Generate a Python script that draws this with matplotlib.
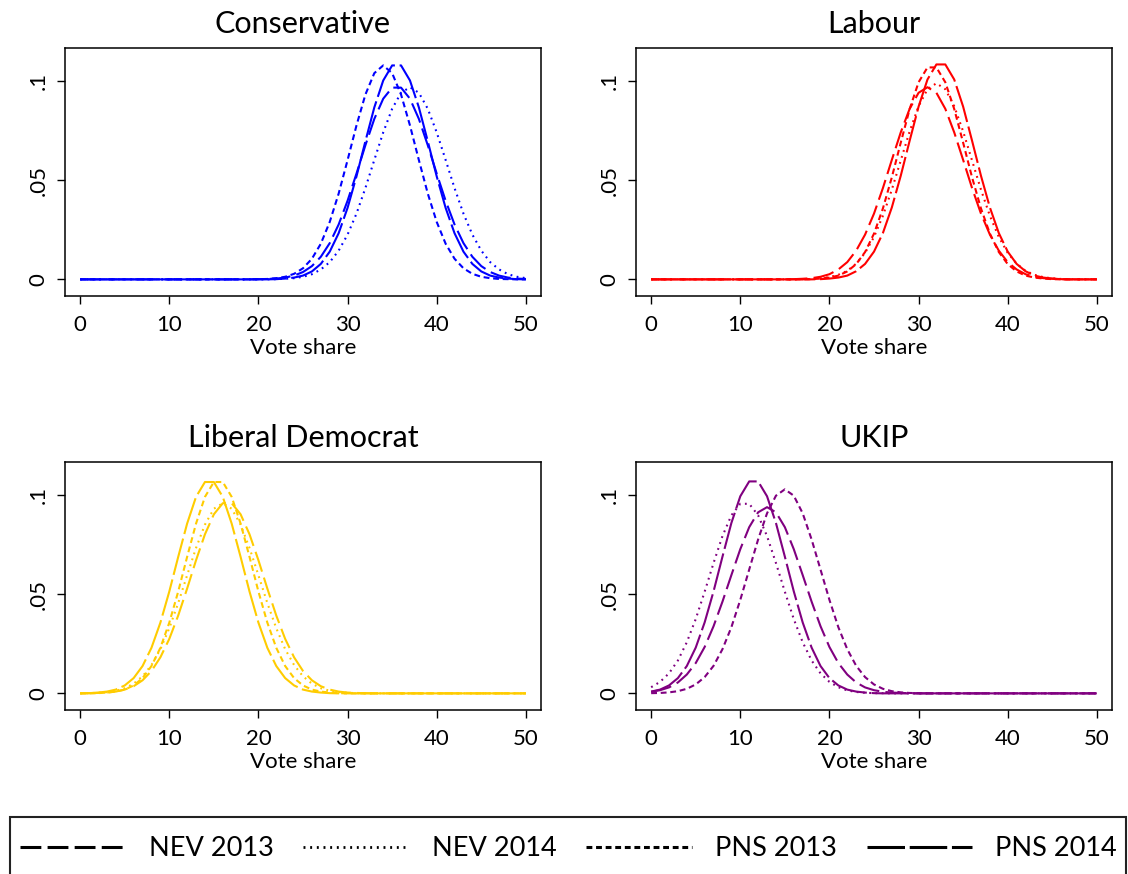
import matplotlib
matplotlib.use("Agg")
import matplotlib.pyplot as plt
from matplotlib.lines import Line2D
from matplotlib.patches import Rectangle

plt.rcParams['font.family'] = ['Lato', 'DejaVu Sans']
plt.rcParams['lines.scale_dashes'] = False

# DATA (densities at every whole vote share 0..50)

vote_share = list(range(0, 51))

parties = ["Conservative", "Labour", "Liberal Democrat", "UKIP"]
party_colors = ["#0000FF", "#FF0000", "#FFCC00", "#800080"]
surveys = ["NEV 2013", "NEV 2014", "PNS 2013", "PNS 2014"]

con_nev13 = [0] * 20 + [0.0001, 0.0002, 0.0004, 0.0009, 0.0019, 0.0037, 0.0067, 0.0114, 0.0183, 0.0277,
                        0.0397, 0.0534, 0.0677, 0.0810, 0.0912, 0.0968, 0.0968, 0.0912, 0.0810, 0.0677,
                        0.0534, 0.0397, 0.0277, 0.0183, 0.0114, 0.0067, 0.0037, 0.0019, 0.0009, 0.0004,
                        0.0002]
con_nev14 = [0] * 22 + [0.0001, 0.0003, 0.0006, 0.0013, 0.0026, 0.0050, 0.0087, 0.0145, 0.0226, 0.0332,
                        0.0461, 0.0603, 0.0742, 0.0861, 0.0942, 0.0970, 0.0942, 0.0861, 0.0742, 0.0603,
                        0.0461, 0.0332, 0.0226, 0.0145, 0.0087, 0.0050, 0.0026, 0.0013, 0.0006]
con_pns13 = [0] * 20 + [0.0001, 0.0002, 0.0006, 0.0013, 0.0028, 0.0056, 0.0104, 0.0180, 0.0290, 0.0433,
                        0.0602, 0.0777, 0.0933, 0.1041, 0.1080, 0.1041, 0.0933, 0.0777, 0.0602, 0.0433,
                        0.0290, 0.0180, 0.0104, 0.0056, 0.0028, 0.0013, 0.0006, 0.0002, 0.0001] + [0] * 2
con_pns14 = [0] * 22 + [0.0001, 0.0004, 0.0009, 0.0019, 0.0040, 0.0078, 0.0140, 0.0233, 0.0361, 0.0520,
                        0.0697, 0.0868, 0.1004, 0.1080, 0.1080, 0.1004, 0.0868, 0.0697, 0.0520, 0.0361,
                        0.0233, 0.0140, 0.0078, 0.0040, 0.0019, 0.0009, 0.0004, 0.0001] + [0]

lab_nev13 = [0] * 16 + [0.0001, 0.0003, 0.0006, 0.0013, 0.0026, 0.0050, 0.0087, 0.0145, 0.0226, 0.0332,
                        0.0461, 0.0603, 0.0742, 0.0861, 0.0942, 0.0970, 0.0942, 0.0861, 0.0742, 0.0603,
                        0.0461, 0.0332, 0.0226, 0.0145, 0.0087, 0.0050, 0.0026, 0.0013, 0.0006, 0.0003,
                        0.0001] + [0] * 4
lab_nev14 = [0] * 17 + [0.0001, 0.0002, 0.0005, 0.0011, 0.0023, 0.0043, 0.0079, 0.0134, 0.0214, 0.0321,
                        0.0453, 0.0600, 0.0747, 0.0874, 0.0960, 0.0990, 0.0960, 0.0874, 0.0747, 0.0600,
                        0.0453, 0.0321, 0.0214, 0.0134, 0.0079, 0.0043, 0.0023, 0.0011, 0.0005, 0.0002,
                        0.0001] + [0] * 3
lab_pns13 = [0] * 18 + [0.0001, 0.0004, 0.0009, 0.0019, 0.0040, 0.0077, 0.0138, 0.0231, 0.0358, 0.0515,
                        0.0690, 0.0860, 0.0995, 0.1070, 0.1070, 0.0995, 0.0860, 0.0690, 0.0515, 0.0358,
                        0.0231, 0.0138, 0.0077, 0.0040, 0.0019, 0.0009, 0.0004, 0.0001] + [0] * 5
lab_pns14 = [0] * 19 + [0.0001, 0.0004, 0.0009, 0.0019, 0.0041, 0.0078, 0.0140, 0.0234, 0.0363, 0.0523,
                        0.0700, 0.0872, 0.1009, 0.1085, 0.1085, 0.1009, 0.0872, 0.0700, 0.0523, 0.0363,
                        0.0234, 0.0140, 0.0078, 0.0041, 0.0019, 0.0009, 0.0004, 0.0001] + [0] * 4

lib_nev13 = [0.0000, 0.0001, 0.0002, 0.0004, 0.0009, 0.0019, 0.0036, 0.0066, 0.0113, 0.0182,
             0.0275, 0.0393, 0.0529, 0.0672, 0.0803, 0.0904, 0.0960, 0.0960, 0.0904, 0.0803,
             0.0672, 0.0529, 0.0393, 0.0275, 0.0182, 0.0113, 0.0066, 0.0036, 0.0019, 0.0009,
             0.0004, 0.0002, 0.0001] + [0] * 18
lib_nev14 = [0.0000, 0.0001, 0.0003, 0.0006, 0.0013, 0.0026, 0.0049, 0.0086, 0.0143, 0.0223,
             0.0329, 0.0456, 0.0596, 0.0734, 0.0852, 0.0932, 0.0960, 0.0932, 0.0852, 0.0734,
             0.0596, 0.0456, 0.0329, 0.0223, 0.0143, 0.0086, 0.0049, 0.0026, 0.0013, 0.0006,
             0.0003, 0.0001] + [0] * 19
lib_pns13 = [0.0000, 0.0000, 0.0001, 0.0004, 0.0009, 0.0019, 0.0040, 0.0077, 0.0138, 0.0230,
             0.0357, 0.0514, 0.0689, 0.0857, 0.0992, 0.1067, 0.1067, 0.0992, 0.0857, 0.0689,
             0.0514, 0.0357, 0.0230, 0.0138, 0.0077, 0.0040, 0.0019, 0.0009, 0.0004, 0.0001] + [0] * 21
lib_pns14 = [0.0000, 0.0001, 0.0004, 0.0009, 0.0019, 0.0040, 0.0077, 0.0138, 0.0230, 0.0357,
             0.0514, 0.0689, 0.0857, 0.0992, 0.1067, 0.1067, 0.0992, 0.0857, 0.0689, 0.0514,
             0.0357, 0.0230, 0.0138, 0.0077, 0.0040, 0.0019, 0.0009, 0.0004, 0.0001] + [0] * 22

ukip_nev13 = [0.0008, 0.0016, 0.0030, 0.0055, 0.0095, 0.0153, 0.0234, 0.0339, 0.0463, 0.0597,
              0.0728, 0.0839, 0.0914, 0.0940, 0.0914, 0.0839, 0.0728, 0.0597, 0.0463, 0.0339,
              0.0234, 0.0153, 0.0095, 0.0055, 0.0030, 0.0016, 0.0008, 0.0004, 0.0002, 0.0001] + [0] * 21
ukip_nev14 = [0.0031, 0.0058, 0.0101, 0.0166, 0.0258, 0.0375, 0.0513, 0.0658, 0.0794, 0.0899,
              0.0957, 0.0957, 0.0899, 0.0794, 0.0658, 0.0513, 0.0375, 0.0258, 0.0166, 0.0101,
              0.0058, 0.0031, 0.0015, 0.0007, 0.0003, 0.0001, 0.0001] + [0] * 24
ukip_pns13 = [0.0001, 0.0002, 0.0005, 0.0011, 0.0023, 0.0045, 0.0082, 0.0139, 0.0223, 0.0334,
              0.0472, 0.0625, 0.0777, 0.0909, 0.0998, 0.1030, 0.0998, 0.0909, 0.0777, 0.0625,
              0.0472, 0.0334, 0.0223, 0.0139, 0.0082, 0.0045, 0.0023, 0.0011, 0.0005, 0.0002,
              0.0001] + [0] * 20
ukip_pns14 = [0.0009, 0.0019, 0.0040, 0.0077, 0.0138, 0.0231, 0.0358, 0.0515, 0.0690, 0.0860,
              0.0995, 0.1070, 0.1070, 0.0995, 0.0860, 0.0690, 0.0515, 0.0358, 0.0231, 0.0138,
              0.0077, 0.0040, 0.0019, 0.0009, 0.0004, 0.0001] + [0] * 25

party_series = [
    [con_nev13, con_nev14, con_pns13, con_pns14],
    [lab_nev13, lab_nev14, lab_pns13, lab_pns14],
    [lib_nev13, lib_nev14, lib_pns13, lib_pns14],
    [ukip_nev13, ukip_nev14, ukip_pns13, ukip_pns14],
]

# line patterns (points): long dash, dots, short dash, very long dash
patterns = [(15, 4.5), (1.3, 3.2), (4.2, 2.7), (27, 3.4)]

# FIGURE

fig = plt.figure(figsize=(11.28, 8.74), dpi=100)
W, H = 1128, 874
boxes = [(65, 48), (636, 48), (65, 462), (636, 462)]  # left/top in pixels

for i, party in enumerate(parties):
    left, top = boxes[i]
    ax = fig.add_axes([left / W, 1 - (top + 248) / H, 476 / W, 248 / H])
    for s in range(4):
        ax.plot(vote_share, party_series[i][s], color=party_colors[i], lw=1.5,
                dashes=patterns[s])
    ax.set_xlim(-1.7, 51.7)
    ax.set_ylim(-0.0084, 0.1168)
    ax.set_xticks([0, 10, 20, 30, 40, 50])
    ax.set_yticks([0, 0.05, 0.1])
    ax.set_yticklabels(["0", ".05", ".1"], rotation=90, va='center')
    ax.tick_params(length=6, width=1, labelsize=16)
    ax.tick_params(axis='x', pad=8)
    ax.tick_params(axis='y', pad=6)
    for sp in ax.spines.values():
        sp.set_linewidth(1.1)
    ax.set_title(party, fontsize=22, pad=11)
    ax.set_xlabel("Vote share", fontsize=16, labelpad=2)

# legend box and entries
fig.patches.append(Rectangle((10 / W, -0.02), 1116 / W, 0.02 + (1 - 817 / H),
                             transform=fig.transFigure, fill=False,
                             edgecolor='#222222', lw=1.5))
handles = [Line2D([], [], color='black', lw=2.2, dashes=patterns[s]) for s in range(4)]
handles[1] = Line2D([], [], color='black', lw=2.0, dashes=(1.4, 3.4))
fig.legend(handles, surveys, loc='center left', bbox_to_anchor=(20 / W, 1 - 849 / H),
           ncol=4, frameon=False, fontsize=19.5, handlelength=3.9, handletextpad=0.85,
           columnspacing=1.1, borderpad=0, borderaxespad=0)

fig.savefig("out.png", dpi=100)
